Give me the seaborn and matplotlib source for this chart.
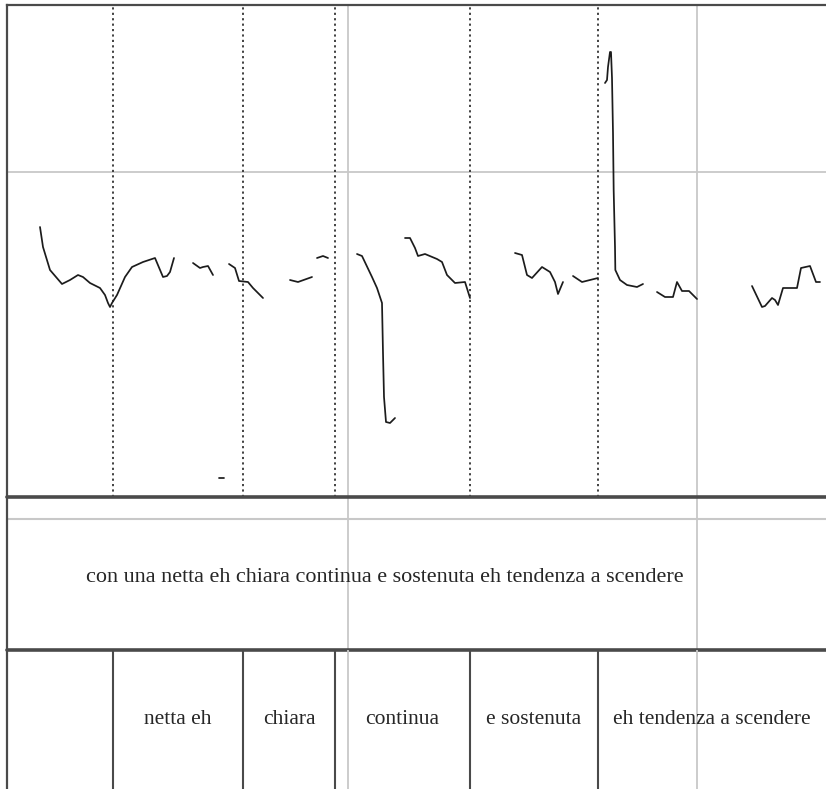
import matplotlib
matplotlib.use("Agg")
import matplotlib.pyplot as plt
import numpy as np
import pandas as pd
import seaborn as sns

# pitch contour, time in ms, f0 in Hz (one list per voiced stretch)
seg_times = [
    [99, 108, 129, 165, 189, 213, 228, 249, 279, 294, 303, 309, 315, 330, 354, 375, 408, 444, 468, 480, 489, 501],
    [558, 579, 588, 603, 618],
    [666, 684, 696, 723, 738, 768],
    [849, 873, 915],
    [930, 948, 963],
    [636, 651],
    [1050, 1065, 1095, 1110, 1125, 1128, 1131, 1137, 1149, 1164],
    [1194, 1209, 1224, 1233, 1254, 1290, 1305, 1320, 1344, 1374, 1389],
    [1524, 1545, 1560, 1575, 1605, 1629, 1644, 1653, 1668],
    [1698, 1725, 1749, 1773],
    [1794, 1800, 1803, 1809, 1812, 1815, 1818, 1820, 1824, 1825, 1839, 1860, 1890, 1908],
    [1950, 1974, 1998, 2010, 2025, 2046, 2070],
    [2235, 2265, 2274, 2295, 2304, 2313, 2328, 2370, 2382, 2409, 2427, 2439],
]
seg_f0 = [
    [320, 300, 277, 263, 267, 272, 270, 264, 259, 252, 244, 240, 244, 252, 270, 280, 285, 289, 270, 271, 275, 289],
    [284, 279, 280, 281, 272],
    [283, 279, 266, 265, 259, 249],
    [267, 265, 270],
    [289, 291, 289],
    [69, 69],
    [293, 291, 270, 259, 244, 194, 150, 125, 124, 129],
    [309, 309, 299, 291, 293, 288, 285, 272, 264, 265, 249],
    [294, 292, 272, 269, 280, 275, 265, 253, 265],
    [271, 265, 267, 269],
    [464, 467, 480, 495, 495, 469, 414, 357, 300, 277, 267, 262, 260, 263],
    [255, 250, 250, 265, 256, 256, 248],
    [261, 240, 241, 249, 247, 242, 259, 259, 279, 281, 265, 265],
]

# tier annotations
word_bounds = [318, 708, 984, 1389, 1773]
word_labels = ["netta eh", "chiara", "continua", "e sostenuta", "eh tendenza a scendere"]
word_ends = [708, 984, 1389, 1773, 2457]
sentence = "con una netta eh chiara continua e sostenuta eh tendenza a scendere"
sentence_mid = 1134
grid_times = [1023, 2070]
grid_f0 = 375

t_max = 2457
f_min, f_max = 50, 542

df = pd.concat(
    [pd.DataFrame({"t": t, "f0": f, "seg": i}) for i, (t, f) in enumerate(zip(seg_times, seg_f0))],
    ignore_index=True,
)

sns.set_style("white")
plt.rcParams["font.family"] = ["Liberation Serif", "DejaVu Serif"]

W, H = 826, 789
fig = plt.figure(figsize=(W / 100, H / 100), dpi=100)
fig.patch.set_facecolor("white")

left = 7 / W
ax_p = fig.add_axes([left, 1 - 497 / H, 1 - left, 492 / H])
ax_s = fig.add_axes([left, 1 - 650 / H, 1 - left, 153 / H])
ax_w = fig.add_axes([left, 0, 1 - left, 139 / H])

edge = "#4a4a4a"
light = "#c8c8c8"

for ax in (ax_p, ax_s, ax_w):
    ax.set_xlim(0, t_max)
    ax.set_xticks([])
    ax.set_yticks([])
    ax.patch.set_alpha(0)
    for side in ax.spines:
        ax.spines[side].set_visible(False)
    ax.spines["left"].set_visible(True)
    ax.spines["left"].set_color(edge)
    ax.spines["left"].set_linewidth(1.6)
    for gt in grid_times:
        ax.axvline(gt, color=light, lw=1.3, zorder=0)

# pitch panel
ax_p.set_ylim(f_min, f_max)
ax_p.axhline(grid_f0, color=light, lw=1.3, zorder=0)
for b in word_bounds:
    ax_p.axvline(b, color="#333333", lw=1.3, ls=(0, (1.2, 1.8)), zorder=1)
sns.lineplot(data=df, x="t", y="f0", units="seg", estimator=None,
             color="#1c1c1c", lw=1.25, ax=ax_p, legend=False, sort=False)
ax_p.set_xlabel("")
ax_p.set_ylabel("")
ax_p.spines["top"].set_visible(True)
ax_p.spines["top"].set_color(edge)
ax_p.spines["top"].set_linewidth(1.6)

# sentence tier
ax_s.set_ylim(0, 1)
ax_s.axhline(1 - 22 / 153, color=light, lw=1.5, zorder=0)
ax_s.axhline(1, color=edge, lw=2.6, clip_on=False)
ax_s.axhline(0, color=edge, lw=2.6, clip_on=False)
ax_s.text(sentence_mid, 72 / 153, sentence, ha="center", va="center", fontsize=15.9)

# word tier
ax_w.set_ylim(0, 1)
for b in word_bounds:
    ax_w.axvline(b, color=edge, lw=1.5)
for s, e, lab in zip(word_bounds, word_ends, word_labels):
    ax_w.text((s + e) / 2, 70 / 139, lab, ha="center", va="center", fontsize=15.5)

fig.savefig("out.png", dpi=100, facecolor="white")
